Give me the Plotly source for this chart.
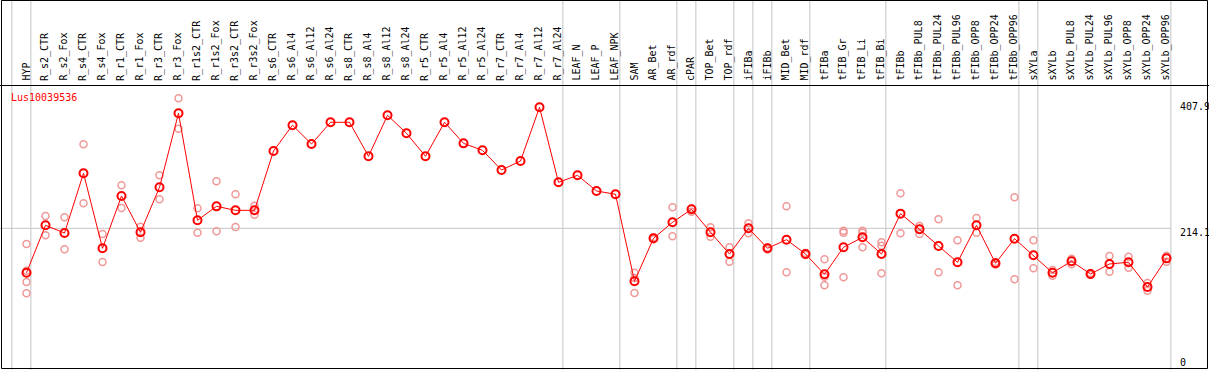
import plotly.graph_objects as go

categories = ["HYP", "R_s2_CTR", "R_s2_Fox", "R_s4_CTR", "R_s4_Fox", "R_r1_CTR", "R_r1_Fox",
              "R_r3_CTR", "R_r3_Fox", "R_r1s2_CTR", "R_r1s2_Fox", "R_r3s2_CTR", "R_r3s2_Fox",
              "R_s6_CTR", "R_s6_Al4", "R_s6_Al12", "R_s6_Al24", "R_s8_CTR", "R_s8_Al4",
              "R_s8_Al12", "R_s8_Al24", "R_r5_CTR", "R_r5_Al4", "R_r5_Al12", "R_r5_Al24",
              "R_r7_CTR", "R_r7_Al4", "R_r7_Al12", "R_r7_Al24", "LEAF_N", "LEAF_P", "LEAF_NPK",
              "SAM", "AR_Bet", "AR_rdf", "cPAR", "TOP_Bet", "TOP_rdf", "iFIBa", "iFIBb",
              "MID_Bet", "MID_rdf", "tFIBa", "tFIB_Gr", "tFIB_Li", "tFIB_Bi", "tFIBb",
              "tFIBb_PUL8", "tFIBb_PUL24", "tFIBb_PUL96", "tFIBb_OPP8", "tFIBb_OPP24",
              "tFIBb_OPP96", "sXYLa", "sXYLb", "sXYLb_PUL8", "sXYLb_PUL24", "sXYLb_PUL96",
              "sXYLb_OPP8", "sXYLb_OPP24", "sXYLb_OPP96"]

means = [143.0, 218.9, 206.6, 302.2, 182.1, 265.9, 207.7, 279.8, 398.3, 226.9, 249.3, 242.9, 242.9,
         337.9, 379.3, 349.1, 383.9, 383.9, 329.4, 395.1, 366.3, 329.4, 383.9, 350.2, 339.0,
         307.5, 321.9, 407.9, 287.8, 299.0, 273.9, 268.6,
         129.2, 198.1, 223.7, 244.5, 207.7, 173.0, 214.1, 182.1, 195.9, 173.0, 140.4, 183.7,
         199.7, 173.0, 237.6, 212.5, 185.8, 159.7, 218.9, 158.1, 197.5,
         170.9, 143.0, 161.3, 140.9, 157.0, 159.7, 120.1, 166.0]

replicates = [[189, 146, 128, 110], [233.8, 202.9], [231.7, 180.5], [348.6, 254.1], [205, 160.2],
              [283, 246.6], [216.7, 199.1], [299, 260.5], [422.3, 373.7], [246.1, 207.1],
              [289.4, 209.3], [268.6, 216.2], [250.4, 235.9],
              [], [], [], [], [], [], [], [], [], [], [], [], [], [], [], [], [], [], [],
              [143.0, 134.5, 110.5], [199.5, 196.7], [247.7, 201.3], [246, 240.7], [215.7, 200.7],
              [183.7, 160.7], [222.1, 206.1], [183.5, 180.7], [249.3, 143.6], [174.5, 171.5],
              [164.5, 136.7, 122.8], [210.3, 207.1, 135.6], [210.3, 207.1, 183.7],
              [191.7, 186.3, 142.1], [270.2, 206.1], [217.8, 205], [228.5, 143.6], [194.9, 122.8],
              [230.6, 207.1], [160, 156], [263.8, 132.4], [194.9, 150.1], [147.3, 138.2],
              [165.4, 156.5], [142.5, 139.3], [169.8, 144.6], [168.7, 151], [126.5, 114.2],
              [170.2, 160.6]]

group_ends = [-1, 0, 28, 31, 34, 35, 37, 38, 39, 41, 45, 52, 53, 60]
y_ticks = [0, 214.1, 407.9]
gene = "Lus10039536"

W, H = 1209, 370
FONT = "DejaVu Sans Mono"
RED = "#ff0000"
PINK = "#f09898"
GRID = "#c4c4c4"

# pixel mapping: x_px = 26.5 + 19*i ; y_px = 362 - 0.6244*v
x_range = [-26.5 / 19, (W - 26.5) / 19]
y_range = [(362 - H) / 0.6244, 362 / 0.6244]

def ypaper(px):
    return 1 - px / H

xs = list(range(len(categories)))
rx, ry = [], []
for i, reps in enumerate(replicates):
    for v in reps:
        rx.append(i)
        ry.append(v)

fig = go.Figure()
fig.add_trace(go.Scatter(x=rx, y=ry, mode="markers",
                         marker=dict(symbol="circle-open", size=7, color=PINK,
                                     line=dict(width=1.5, color=PINK)),
                         hoverinfo="skip", showlegend=False))
fig.add_trace(go.Scatter(x=xs, y=means, mode="lines+markers",
                         line=dict(color=RED, width=1),
                         marker=dict(symbol="circle-open", size=8, color=RED,
                                     line=dict(width=2, color=RED)),
                         showlegend=False))

shapes = []
for g in group_ends:
    shapes.append(dict(type="line", xref="x", yref="paper", x0=g + 0.23, x1=g + 0.23,
                       y0=0, y1=1, line=dict(color=GRID, width=1), layer="below"))
shapes.append(dict(type="line", xref="paper", yref="y", x0=0, x1=(26.5 + 19 * 60.23) / W,
                   y0=y_ticks[1], y1=y_ticks[1], line=dict(color=GRID, width=1), layer="below"))
# header separator and frame
shapes.append(dict(type="line", xref="paper", yref="paper", x0=0, x1=1,
                   y0=ypaper(85.5), y1=ypaper(85.5), line=dict(color="black", width=1)))
shapes.append(dict(type="rect", xref="paper", yref="paper", x0=1.5 / W, x1=1207.5 / W,
                   y0=ypaper(368.5), y1=ypaper(0.5), line=dict(color="black", width=1)))

annotations = []
for i, c in enumerate(categories):
    annotations.append(dict(x=i - 0.05, y=ypaper(83), xref="x", yref="paper", text=c,
                            textangle=-90, xanchor="center", yanchor="bottom", showarrow=False,
                            font=dict(family=FONT, size=10, color="black")))
annotations.append(dict(x=9 / W, y=ypaper(97), xref="paper", yref="paper", text=gene,
                        xanchor="left", yanchor="middle", showarrow=False,
                        font=dict(family=FONT, size=10, color=RED)))
tick_y_px = [362, 232.5, 107]
for v, py in zip(y_ticks, tick_y_px):
    annotations.append(dict(x=1178 / W, y=ypaper(py), xref="paper", yref="paper",
                            text=("%g" % v), xanchor="left", yanchor="middle", showarrow=False,
                            font=dict(family=FONT, size=10, color="black")))

fig.update_layout(width=W, height=H, margin=dict(l=0, r=0, t=0, b=0),
                  paper_bgcolor="white", plot_bgcolor="white",
                  xaxis=dict(range=x_range, visible=False, fixedrange=True),
                  yaxis=dict(range=y_range, visible=False, fixedrange=True),
                  shapes=shapes, annotations=annotations, hovermode=False)

fig.write_html("out.html", config={"displayModeBar": False},
               post_script="document.body.style.margin='0';document.body.style.overflow='hidden';")
